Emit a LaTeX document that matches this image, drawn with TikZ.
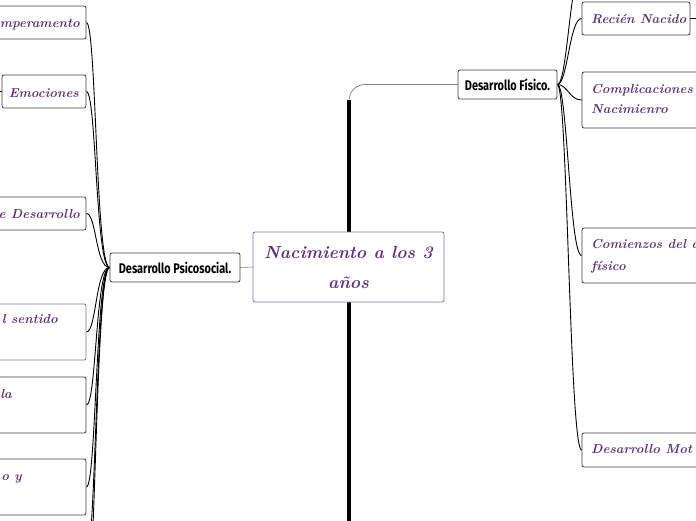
\documentclass[tikz,border=0pt]{standalone}
\usepackage{fontspec}
\newfontfamily\condfont[FakeStretch=0.78]{Fira Sans}
\usetikzlibrary{positioning, backgrounds}
\definecolor{inkpurple}{RGB}{94,52,122}
\definecolor{framepurple}{RGB}{142,108,168}
\definecolor{framegray}{RGB}{60,60,60}

\begin{document}
\begin{tikzpicture}[x=1pt, y=-1pt,
            topic/.style={draw=framegray, fill=white, rounded corners=2pt, line width=0.8pt, inner sep=0pt},
            branch/.style={topic, font=\condfont\bfseries\fontsize{14}{16}\selectfont},
            script/.style={text=inkpurple, font=\bfseries\itshape\fontsize{13}{18}\selectfont, inner sep=0pt},
            link/.style={line width=0.9pt}]

            \useasboundingbox (0,0) rectangle (696,520);

            % Central topic and main branches
            \node[topic, draw=framepurple, minimum width=191pt, minimum height=70pt, align=center,
                  script, font=\bfseries\itshape\fontsize{17.5}{30}\selectfont] (root) at (348.5,267) {Nacimiento a los 3\\años};
            \node[branch, minimum width=130pt, minimum height=29pt] (psico) at (175,267.5) {Desarrollo Psicosocial.};
            \node[branch, minimum width=99pt, minimum height=29pt] (fisico) at (507.5,84.5) {Desarrollo Físico.};

            % Left children (cut by the left edge)
            \node[topic, minimum width=146pt, minimum height=33pt] (temp) at (13,22.5) {};
            \node[topic, minimum width=84pt, minimum height=33pt] (emo) at (44,91.5) {};
            \node[topic, minimum width=146pt, minimum height=33pt] (teor) at (13,213.5) {};
            \node[topic, draw=framepurple, minimum width=146pt, minimum height=56pt] (yo) at (13,332) {};
            \node[topic, minimum width=146pt, minimum height=56pt] (auto) at (13,405) {};
            \node[topic, minimum width=146pt, minimum height=56pt] (otros) at (13,487) {};

            \node[script, anchor=base east] (temptext) at (80,27) {mperamento};
            \node[script, anchor=base east] (emotext) at (79,97) {Emociones};
            \node[script, anchor=base east] (teortext) at (80,218) {e Desarrollo};
            \node[script, anchor=base east] (yotext) at (58,323) {l sentido};
            \node[script, anchor=base east] (autotext) at (12,398) {la};
            \node[script, anchor=base east] (otrostext) at (22,480) {o y};

            % Right children (cut by the right edge)
            \node[topic, minimum width=108pt, minimum height=33pt] (recien) at (636,18.5) {};
            \node[topic, minimum width=198pt, minimum height=56pt] (compl) at (681,100) {};
            \node[topic, minimum width=198pt, minimum height=55pt] (comien) at (681,255.5) {};
            \node[topic, minimum width=198pt, minimum height=34pt] (motor) at (681,450) {};

            \node[script, anchor=base west] (reciente) at (591,23) {Recién Nacido};
            \node[script, anchor=base west, align=left, font=\bfseries\itshape\fontsize{13}{20}\selectfont] (compltext) at (591,113) {Complicaciones d\\Nacimienro};
            \node[script, anchor=base west, align=left, font=\bfseries\itshape\fontsize{13}{22}\selectfont] (comientext) at (591,270) {Comienzos del d\\físico};
            \node[script, anchor=base west] (motortext) at (591,453) {Desarrollo Mot};

            % Ends of connectors outside the frame
            \coordinate (trunkfoot) at (349,540);
            \coordinate (psicoa) at (86,560);
            \coordinate (psicob) at (86,600);
            \coordinate (fisicoa) at (582,-30);
            \coordinate (recienout) at (710,18.5);
            \coordinate (emoout) at (-10,91.5);

            % Connectors behind the boxes
            \begin{scope}[on background layer]
                \draw[gray, line width=0.7pt, rounded corners=16pt] (trunkfoot) |- (fisico.west);
                \draw[line width=4.5pt] (trunkfoot) -- (349,100);
                \draw[gray, line width=0.6pt] (psico.east) -- (root.west);
                \foreach \leaf in {temp, emo, teor, yo, auto, otros, psicoa, psicob}
                    \draw[link] (\leaf.east) .. controls +(10,0) and +(-14,0) .. (psico.west);
                \foreach \leaf in {fisicoa, recien, compl, comien, motor}
                    \draw[link] (fisico.east) .. controls +(10,0) and +(-12,0) .. (\leaf.west);
                \draw[link] (recien.east) -- (recienout);
                \draw[link] (emo.west) -- (emoout);
            \end{scope}
        \end{tikzpicture}
\end{document}
